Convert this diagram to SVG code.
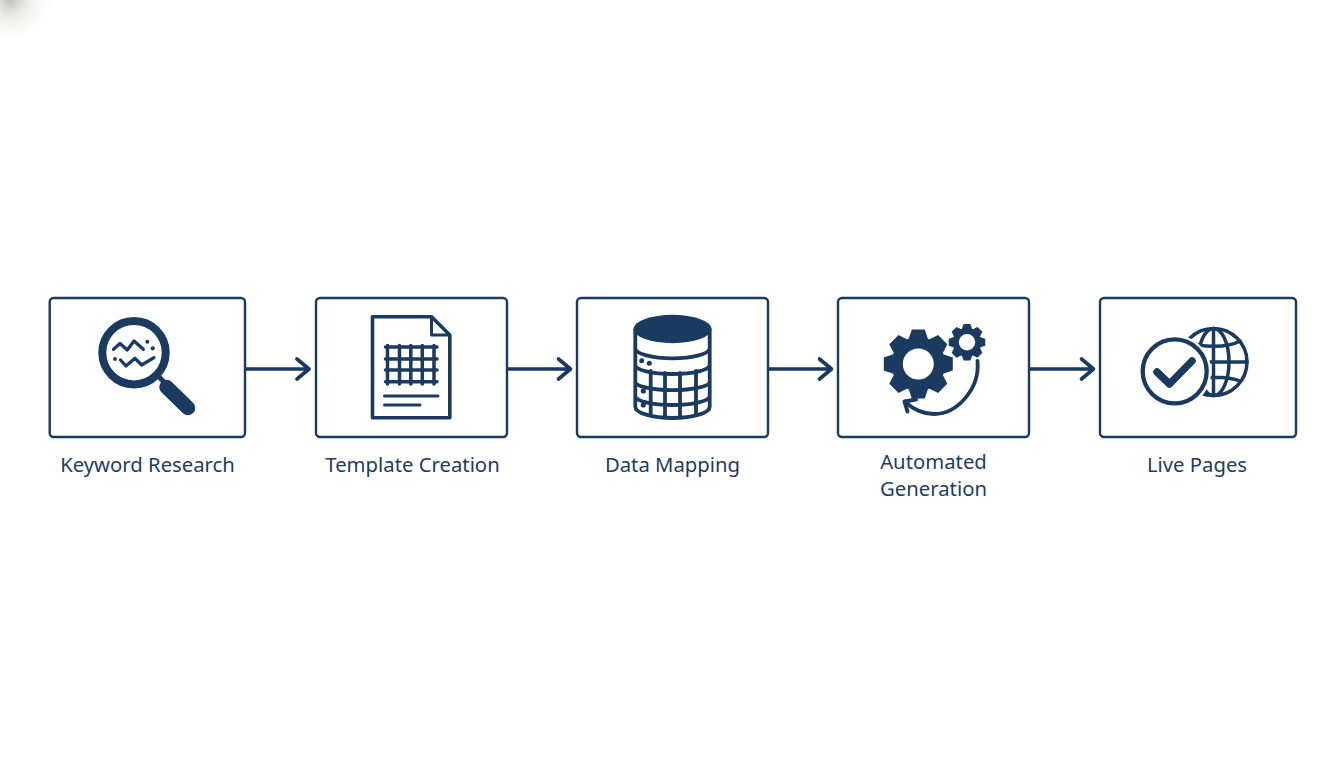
<svg xmlns="http://www.w3.org/2000/svg" xmlns:xlink="http://www.w3.org/1999/xlink" width="1344" height="768" viewBox="0 0 1344 768">
<style>
.box{fill:#fff;stroke:#1a3a5f;stroke-width:2.4}
.lbl{font-family:"Noto Sans","Open Sans",sans-serif;font-size:20.3px;fill:#1f3d60;text-anchor:middle}
.ln{fill:none;stroke:#1a3a5f;stroke-linecap:round;stroke-linejoin:round}
.fl{fill:#1a3a5f}
.conn{fill:none;stroke:#1a3a5f;stroke-width:3.6;stroke-linecap:round;stroke-linejoin:round}
</style>
<defs>
<radialGradient id="smudge"><stop offset="0" stop-color="#9a9a96" stop-opacity=".65"/><stop offset=".35" stop-color="#c8c8c6" stop-opacity=".35"/><stop offset="1" stop-color="#fff" stop-opacity="0"/></radialGradient>
<clipPath id="globeClip"><path clip-rule="evenodd" d="M1170 320h90v90h-90z M1174.700 335a36.500 36.500 0 1 0 .01 0z"/></clipPath>
<clipPath id="cylClip"><path d="M635.500 329V406.700A37 11.300 0 0 0 709.500 406.700V329z"/></clipPath>
<g id="gear"><circle r="27" class="fl"/>
<polygon id="t" class="fl" points="-6.500,-34.500 6.500,-34.500 10,-24 -10,-24"/>
<use xlink:href="#t" href="#t" transform="rotate(45)"/><use xlink:href="#t" href="#t" transform="rotate(90)"/><use xlink:href="#t" href="#t" transform="rotate(135)"/><use xlink:href="#t" href="#t" transform="rotate(180)"/><use xlink:href="#t" href="#t" transform="rotate(225)"/><use xlink:href="#t" href="#t" transform="rotate(270)"/><use xlink:href="#t" href="#t" transform="rotate(315)"/>
<circle r="15.500" fill="#fff"/></g>
</defs>
<rect width="1344" height="768" fill="#fff"/>
<circle cx="10" cy="0" r="48" fill="url(#smudge)"/>
<g id="connectors">
<path class="conn" d="M246 369H308M297 359L309 369L297 379"/>
<path class="conn" d="M508 369H569M558.500 359L570.500 369L558.500 379"/>
<path class="conn" d="M769 369H830M819.500 359L831.500 369L819.500 379"/>
<path class="conn" d="M1030 369H1092M1081.500 359L1093.500 369L1081.500 379"/>
</g>
<g id="node-keyword-research">
<rect class="box" x="49.700" y="298" width="195.300" height="139" rx="4"/>
<circle cx="134" cy="352.700" r="31.700" class="ln" stroke-width="8"/>
<path class="ln" stroke-width="5" d="M160 378L166 384"/>
<path class="ln" stroke-width="14.500" d="M166.500 387L188 408"/>
<path class="ln" stroke-width="3.300" d="M113.500 349.300L120 343.500L127.300 350L134 341L143.300 349.300"/>
<circle cx="147.300" cy="341.700" r="2" class="fl"/><circle cx="152.700" cy="348.300" r="2.100" class="fl"/><circle cx="115" cy="359" r="1.900" class="fl"/>
<path class="ln" stroke-width="3.300" d="M120.500 360L126 366L135 358.300L141.700 365L154 357.700"/>
<text class="lbl" x="147.500" y="472">Keyword Research</text>
</g>
<g id="node-template-creation">
<rect class="box" x="316" y="298" width="191" height="139" rx="4"/>
<path class="ln" stroke-width="3.600" d="M372.500 316.800H431.500L449.800 335V417.700H372.500Z"/>
<path class="ln" stroke-width="3" d="M431.500 317.500V335H449"/>
<path class="ln" stroke-width="3.500" d="M387.500 345.500V384M399.500 345.500V384M410.800 345.500V384M422.300 345.500V384M434 345.500V384M385.500 347H437M385.500 359H437M385.500 370H437M385.500 381.700H437"/>
<path class="ln" stroke-width="3" d="M384.500 396H438M384.500 405H420"/>
<text class="lbl" x="412.500" y="472">Template Creation</text>
</g>
<g id="node-data-mapping">
<rect class="box" x="577" y="298" width="191" height="139" rx="4"/>
<g clip-path="url(#cylClip)"><path class="ln" stroke-width="3.800" d="M650.700 371V420M665 373V420M680 373V420M696 371V420"/></g>
<path class="ln" stroke-width="3.800" d="M635.300 329V406.700A37.200 11.300 0 0 0 709.700 406.700V329M635.300 348.300A37.200 10 0 0 0 709.700 348.300M635.300 365A37.200 9 0 0 0 709.700 365M635.300 381.700A37.200 8.500 0 0 0 709.700 381.700M635.300 396A37.200 9 0 0 0 709.700 396"/>
<ellipse cx="672.500" cy="329" rx="39" ry="14.200" class="fl"/>
<circle cx="641.700" cy="360.700" r="2.500" class="fl"/><circle cx="649.300" cy="363.300" r="2.500" class="fl"/><circle cx="643.300" cy="391" r="2.600" class="fl"/><circle cx="643.300" cy="405" r="2.600" class="fl"/>
<text class="lbl" x="672.500" y="472">Data Mapping</text>
</g>
<g id="node-automated-generation">
<rect class="box" x="838" y="298" width="191" height="139" rx="4"/>
<use xlink:href="#gear" href="#gear" transform="translate(918.300 364)"/>
<use xlink:href="#gear" href="#gear" transform="translate(967 342.300) scale(.53)"/>
<path class="ln" stroke-width="3.800" d="M977.500 361C980 388 958 414 934 414C922 414 913 409 905 402"/>
<path class="ln" stroke-width="4" d="M916 399.500L904.500 401.500L907.500 411.500"/>
<text class="lbl" x="933.500" y="468.500">Automated</text>
<text class="lbl" x="933.500" y="496.300">Generation</text>
</g>
<g id="node-live-pages">
<rect class="box" x="1100" y="298" width="196" height="139" rx="4"/>
<g clip-path="url(#globeClip)" class="ln" stroke-width="3.500">
<circle cx="1213.500" cy="362" r="33.500"/>
<ellipse cx="1213.500" cy="362" rx="15.500" ry="33.500"/>
<path d="M1213.500 328.500V395.500M1188 341C1200 348 1228 348 1240 341M1180 362H1247M1188 381C1200 376 1228 376 1240 381"/>
</g>
<circle cx="1174.700" cy="371.300" r="32" class="ln" stroke-width="4.300"/>
<path class="ln" stroke-width="7.500" d="M1157 372L1169.500 384L1192 361"/>
<text class="lbl" x="1197" y="472">Live Pages</text>
</g>
</svg>
